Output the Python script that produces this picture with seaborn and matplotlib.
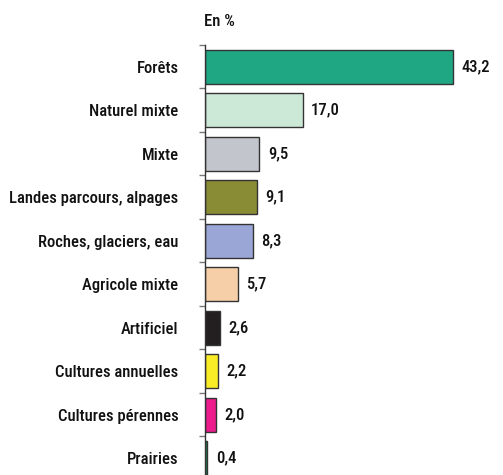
import matplotlib
matplotlib.use("Agg")
import matplotlib.pyplot as plt
from matplotlib import font_manager
import seaborn as sns
import pandas as pd

categories = [
    "Forêts", "Naturel mixte", "Mixte", "Landes parcours, alpages",
    "Roches, glaciers, eau", "Agricole mixte", "Artificiel",
    "Cultures annuelles", "Cultures pérennes", "Prairies",
]
values = [43.2, 17.0, 9.5, 9.1, 8.3, 5.7, 2.6, 2.2, 2.0, 0.4]
colors = [
    "#1fa783", "#cce8d7", "#c3c5cc", "#8a8b35", "#99a6d6",
    "#f6cfa9", "#231f20", "#f8ec26", "#ec1c8d", "#1b9a4f",
]
unit_label = "En %"

sns.set_theme(style="white")

# pick a condensed face for all text
cond = [f.fname for f in font_manager.fontManager.ttflist
        if "condensed" in f.fname.lower() or "narrow" in f.fname.lower()]
font_file = None
for pref in ["RobotoCondensed-Medium", "RobotoCondensed-Regular",
             "LiberationSansNarrow-Regular", "DejaVuSansCondensed"]:
    hits = [p for p in cond if p.split("/")[-1].startswith(pref)]
    if hits:
        font_file = hits[0]
        break
if font_file:
    fp = font_manager.FontProperties(fname=font_file)
else:
    fp = font_manager.FontProperties(family="DejaVu Sans", stretch="condensed")

df = pd.DataFrame({"cat": categories, "val": values})

fig = plt.figure(figsize=(5.03, 4.75), dpi=100)
ax = fig.add_axes([205 / 503, 0.0, 1 - 205 / 503 - 0.045, 1 - 45 / 475])

sns.barplot(data=df, y="cat", x="val", hue="cat", palette=colors,
            orient="h", width=0.78, edgecolor="#333333", linewidth=1.0,
            saturation=1, legend=False, ax=ax)

ax.set_xlim(0, 48)
ax.set_ylim(9.39, -0.5)
ax.set_xlabel("")
ax.set_ylabel("")
ax.set_xticks([])
for s in ["top", "right", "bottom"]:
    ax.spines[s].set_visible(False)
ax.spines["left"].set_color("#333333")
ax.spines["left"].set_linewidth(1.0)

ax.set_yticks(range(len(categories)))
ax.set_yticklabels(categories)
for t in ax.get_yticklabels():
    t.set_fontproperties(fp)
    t.set_fontsize(12)
    t.set_color("#111111")
ax.set_yticks([i - 0.5 for i in range(len(categories))], minor=True)
ax.tick_params(axis="y", which="major", length=0, pad=19)
ax.tick_params(axis="y", which="minor", length=4, width=1, color="#777777", left=True)

for i, v in enumerate(values):
    ax.annotate(f"{v:.1f}".replace(".", ","), xy=(v, i), xytext=(6, 0),
                textcoords="offset points", va="center", ha="left",
                fontproperties=fp, fontsize=12, color="#111111")

fig.text(204 / 503, 1 - 22 / 475, unit_label, ha="left", va="center",
         fontproperties=fp, fontsize=12, color="#111111")

fig.savefig("out.png", dpi=100)
